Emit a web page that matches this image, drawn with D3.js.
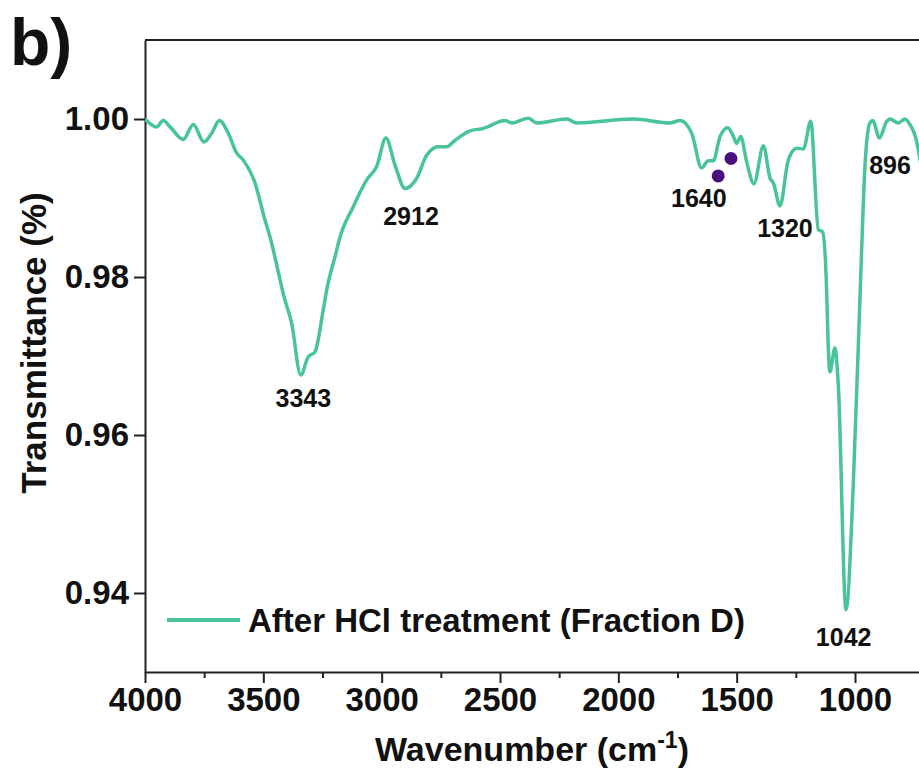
<!DOCTYPE html>
<html lang="en">
<head>
<meta charset="UTF-8"/>
<title>FTIR spectrum - Fraction D</title>
<script src="https://d3js.org/d3.v7.min.js"></script>
<style>
    body { margin: 0; background: #fff; }
    svg text {
        font-family: "Liberation Sans", Arial, sans-serif;
        font-weight: bold;
        fill: #111;
    }
    .spectrum {
        fill: none;
        stroke: #48c39c;
        stroke-width: 3.5;
        stroke-linejoin: round;
    }
    .axis path, .axis line {
        stroke: #222;
        stroke-width: 2;
    }
</style>
</head>
<body>
<div id="chart"></div>
<script>
    // spectrum
    var wavenumber = [4000, 3951, 3923, 3894, 3838, 3796, 3751, 3718, 3686, 3648,
        3613, 3585, 3535, 3493, 3472, 3429, 3416, 3380, 3342, 3310,
        3282, 3247, 3232, 3190, 3183, 3120, 3063, 3021, 2982, 2944,
        2901, 2852, 2810, 2761, 2725, 2690, 2627, 2571, 2479, 2451,
        2380, 2345, 2218, 2176, 1937, 1782, 1739, 1690, 1648, 1620,
        1599, 1570, 1538, 1514, 1500, 1483, 1458, 1427, 1387, 1359,
        1345, 1317, 1282, 1246, 1218, 1187, 1155, 1137, 1120, 1114,
        1106, 1085, 1071, 1038, 1007, 972, 958, 937, 925, 897,
        866, 852, 817, 789, 766, 745, 730, 715];
    var transmittance = [1.0000, 0.9990, 0.9998, 0.9990, 0.9974, 0.9993, 0.9971, 0.9982, 0.9998, 0.9982,
        0.9957, 0.9948, 0.9919, 0.9872, 0.9851, 0.9796, 0.9779, 0.9741, 0.9676, 0.9699,
        0.9705, 0.9758, 0.9784, 0.9834, 0.9843, 0.9889, 0.9923, 0.9940, 0.9976, 0.9942,
        0.9912, 0.9925, 0.9954, 0.9965, 0.9965, 0.9973, 0.9985, 0.9988, 0.9998, 0.9995,
        1.0001, 0.9995, 1.0000, 0.9995, 1.0000, 0.9995, 0.9998, 0.9982, 0.9938, 0.9947,
        0.9947, 0.9978, 0.9989, 0.9978, 0.9969, 0.9978, 0.9946, 0.9918, 0.9966, 0.9925,
        0.9919, 0.9890, 0.9948, 0.9963, 0.9962, 0.9997, 0.9860, 0.9857, 0.9784, 0.9720,
        0.9680, 0.9710, 0.9666, 0.9379, 0.9539, 0.9834, 0.9940, 0.9995, 0.9998, 0.9976,
        0.9997, 1.0000, 0.9995, 1.0000, 0.9992, 0.9978, 0.9957, 0.9930];

    var seriesName = "After HCl treatment (Fraction D)";

    // purple markers near 1640
    var markWn = [1578, 1524];
    var markT = [0.9928, 0.9950];

    // peak labels
    var peakLabels = ["3343", "2912", "1640", "1320", "1042", "896"];
    var peakLabelWn = [3331, 2876, 1660, 1296, 1048, 852];
    var peakLabelT = [0.9636, 0.9866, 0.9889, 0.9851, 0.9333, 0.9931];

    var xTicks = [4000, 3500, 3000, 2500, 2000, 1500, 1000];
    var xMinorTicks = [3750, 3250, 2750, 2250, 1750, 1250];
    var yTicks = [1.00, 0.98, 0.96, 0.94];

    var w = 919;
    var h = 776;
    // plot box (note: "top" is taken by window.top, so prefix these)
    var pLeft = 145, pRight = 919, pTop = 40, pBottom = 672;

    var data = wavenumber.map((d, i) => ({wn: d, t: transmittance[i]}));

    var xScale = d3.scaleLinear()
        .domain([4000, 729.6])
        .range([pLeft, pRight]);
    var yScale = d3.scaleLinear()
        .domain([0.93, 1.01])
        .range([pBottom, pTop]);

    var svg = d3.select("#chart")
        .append("svg")
        .attr("width", w)
        .attr("height", h);

    svg.append("clipPath")
        .attr("id", "plotClip")
        .append("rect")
        .attr("x", pLeft)
        .attr("y", pTop)
        .attr("width", pRight - pLeft)
        .attr("height", pBottom - pTop);

    // frame: top line
    svg.append("line")
        .attr("x1", pLeft).attr("x2", pRight)
        .attr("y1", pTop).attr("y2", pTop)
        .attr("stroke", "#222")
        .attr("stroke-width", 2);

    let xAxis = d3.axisBottom(xScale)
        .tickValues(xTicks)
        .tickSize(11)
        .tickSizeOuter(0)
        .tickPadding(5)
        .tickFormat(d3.format("d"));
    let gx = svg.append("g")
        .attr("class", "axis")
        .attr("transform", `translate(0, ${pBottom})`)
        .call(xAxis);
    gx.selectAll("text").style("font-size", "33px");

    let xMinor = d3.axisBottom(xScale)
        .tickValues(xMinorTicks)
        .tickSize(6)
        .tickSizeOuter(0)
        .tickFormat("");
    svg.append("g")
        .attr("class", "axis")
        .attr("transform", `translate(0, ${pBottom})`)
        .call(xMinor)
        .select(".domain").remove();

    let yAxis = d3.axisLeft(yScale)
        .tickValues(yTicks)
        .tickSize(11)
        .tickSizeOuter(0)
        .tickPadding(5)
        .tickFormat(d3.format(".2f"));
    let gy = svg.append("g")
        .attr("class", "axis")
        .attr("transform", `translate(${pLeft}, 0)`)
        .call(yAxis);
    gy.selectAll("text").style("font-size", "33px");

    let line = d3.line()
        .x(d => xScale(d.wn))
        .y(d => yScale(d.t))
        .curve(d3.curveMonotoneX);

    svg.append("path")
        .datum(data)
        .attr("class", "spectrum")
        .attr("clip-path", "url(#plotClip)")
        .attr("d", line);

    svg.selectAll(".mark")
        .data(markWn)
        .enter()
        .append("circle")
        .attr("class", "mark")
        .attr("cx", d => xScale(d))
        .attr("cy", (d, i) => yScale(markT[i]))
        .attr("r", 6.5)
        .attr("fill", "#4b0f7d");

    svg.selectAll(".peak")
        .data(peakLabels)
        .enter()
        .append("text")
        .attr("class", "peak")
        .attr("x", (d, i) => xScale(peakLabelWn[i]))
        .attr("y", (d, i) => yScale(peakLabelT[i]))
        .attr("text-anchor", "middle")
        .style("font-size", "25px")
        .text(d => d);

    // legend
    svg.append("line")
        .attr("x1", 167).attr("x2", 240)
        .attr("y1", 620).attr("y2", 620)
        .attr("stroke", "#48c39c")
        .attr("stroke-width", 4);
    svg.append("text")
        .attr("x", 248)
        .attr("y", 632)
        .style("font-size", "33px")
        .text(seriesName);

    // axis titles
    let xt = svg.append("text")
        .attr("x", (pLeft + pRight) / 2)
        .attr("y", 761)
        .attr("text-anchor", "middle")
        .style("font-size", "34px");
    xt.append("tspan").text("Wavenumber (cm");
    xt.append("tspan").attr("dy", -13).style("font-size", "23px").text("-1");
    xt.append("tspan").attr("dy", 13).text(")");

    svg.append("text")
        .attr("transform", "translate(46, 343) rotate(-90)")
        .attr("text-anchor", "middle")
        .style("font-size", "35px")
        .text("Transmittance (%)");

    svg.append("text")
        .attr("x", 10)
        .attr("y", 65)
        .style("font-size", "66px")
        .text("b)");
</script>
</body>
</html>
